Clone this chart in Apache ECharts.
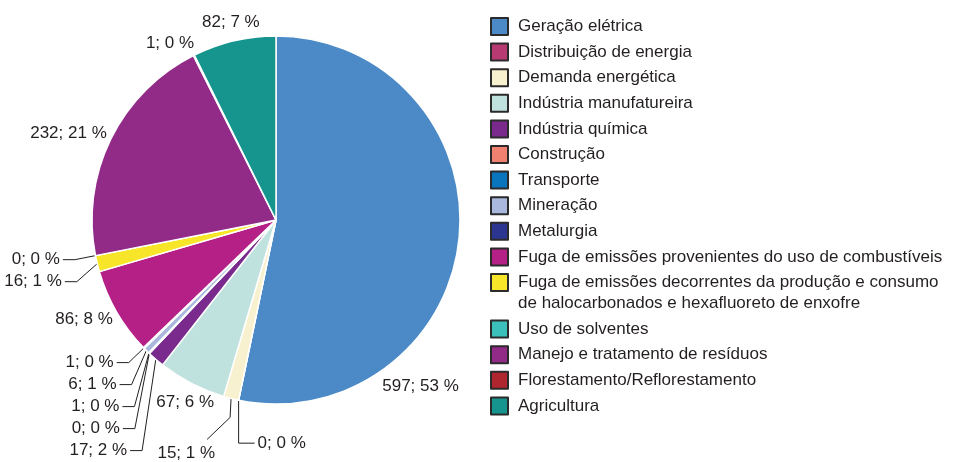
<!DOCTYPE html>
<html>
<head>
<meta charset="utf-8">
<script src="https://cdn.jsdelivr.net/npm/echarts@6/dist/echarts.min.js"></script>
<style>
  html, body { margin: 0; padding: 0; background: #fff; }
  #chart { width: 953px; height: 462px; }
</style>
</head>
<body>
<div id="chart"></div>
<script>
const categories = [
  'Geração elétrica',
  'Distribuição de energia',
  'Demanda energética',
  'Indústria manufatureira',
  'Indústria química',
  'Construção',
  'Transporte',
  'Mineração',
  'Metalurgia',
  'Fuga de emissões provenientes do uso de combustíveis',
  'Fuga de emissões decorrentes da produção e consumo\nde halocarbonados e hexafluoreto de enxofre',
  'Uso de solventes',
  'Manejo e tratamento de resíduos',
  'Florestamento/Reflorestamento',
  'Agricultura'
]
const values = [597, 0, 15, 67, 17, 0, 1, 6, 1, 86, 16, 0, 232, 1, 82]
const colors = [
  '#4b89c7', '#b73a72', '#f8f1cf', '#c0e2df', '#7a2a8c',
  '#f08070', '#0a74bd', '#a9b8dc', '#2c3590', '#b52086',
  '#f7e52a', '#3cc0bb', '#922a88', '#b0262e', '#16958f'
]

const total = values.reduce((a, b) => a + b, 0)
const FONT = "'Liberation Sans', Arial, sans-serif"
const FS = 17
const CX = 276, CY = 220, R = 184
const TEXT_H = 19

const labelText = i => values[i] + '; ' + Math.round(values[i] / total * 100) + ' %'

// measure label widths so the layout can keep labels apart
const ctx = document.createElement('canvas').getContext('2d')
ctx.font = FS + 'px ' + FONT
const widths = values.map((v, i) => ctx.measureText(labelText(i)).width)

// slice angles, clockwise from 12 o'clock
let acc = 0
const starts = values.map(v => { const s = acc / total * 2 * Math.PI; acc += v; return s })
const sweeps = values.map(v => v / total * 2 * Math.PI)
const maxVal = Math.max(...values)
const mids = values.map((v, i) => starts[i] + sweeps[i] * (v === maxVal ? 0.725 : 0.5))
const deg = a => a * 180 / Math.PI
const hasLine = values.map((v, i) => v < 50 && deg(mids[i]) < 300)
const pt = (a, r) => [CX + r * Math.sin(a), CY - r * Math.cos(a)]

const layouts = []
const boxes = []

// labels next to the rim, no leader line; biggest slices first
values.map((v, i) => i)
  .filter(i => !hasLine[i])
  .sort((a, b) => values[b] - values[a])
  .forEach(i => {
    const a = mids[i]
    const dx = Math.sin(a), dy = -Math.cos(a)
    const P = pt(a, R)
    let x, y
    if (values[i] === maxVal) {
      const half = Math.abs(dx) * widths[i] / 2 + Math.abs(dy) * TEXT_H / 2
      ;[x, y] = pt(a, R + 4 + half)
    } else if (Math.abs(dx) > Math.abs(dy)) {
      x = P[0] + Math.sign(dx) * (widths[i] / 2 + 4)
      y = P[1] + dy * 14
    } else {
      x = P[0] + dx * 14
      y = P[1] + Math.sign(dy) * (TEXT_H / 2 + 9)
    }
    boxes.forEach(b => {
      const l = x - widths[i] / 2, r = x + widths[i] / 2
      if (Math.abs(b.y - y) < TEXT_H && r > b.l - 4 && l < b.r + 4) {
        x = dx < 0 ? b.l - 8 - widths[i] / 2 : b.r + 8 + widths[i] / 2
        y += 6
      }
    })
    boxes.push({ l: x - widths[i] / 2, r: x + widths[i] / 2, y })
    layouts[i] = { x, y, align: 'center', verticalAlign: 'middle' }
  })

// leader-line labels
const L1 = 21, L2 = 12, GAP = 3
const leftStack = []
values.forEach((v, i) => {
  if (!hasLine[i]) return
  const d = deg(mids[i])
  const P = pt(mids[i], R)
  if (d < 192.5) {
    const elbow = [P[0], P[1] + 43]
    const end = [P[0] + 16, P[1] + 43]
    layouts[i] = {
      x: end[0] + GAP, y: end[1], align: 'left', verticalAlign: 'middle',
      labelLinePoints: [P, elbow, end]
    }
  } else if (d < 200) {
    const elbow = [P[0] - 1, P[1] + 19]
    const end = [P[0] - 24, P[1] + 41]
    layouts[i] = {
      x: end[0] + 8, y: end[1] + 14, align: 'right', verticalAlign: 'middle',
      labelLinePoints: [P, elbow, end]
    }
  } else {
    leftStack.push(i)
  }
})
leftStack.sort((a, b) => mids[b] - mids[a])
let prevY = -Infinity
leftStack.forEach(i => {
  const P = pt(mids[i], R)
  const E = pt(mids[i], R + L1)
  const y = Math.max(E[1], prevY + 22)
  prevY = y
  const elbow = [E[0], y]
  const end = [E[0] - L2, y]
  layouts[i] = {
    x: end[0] - GAP, y, align: 'right', verticalAlign: 'middle',
    labelLinePoints: [P, elbow, end]
  }
})

const chart = echarts.init(document.getElementById('chart'), null, { renderer: 'canvas' })

const data = values.map((v, i) => ({
  name: categories[i],
  value: v,
  itemStyle: { color: colors[i] },
  labelLine: { show: hasLine[i] }
}))

// legend split in two so the two-line entry keeps its box on the first line
const legendBase = {
  orient: 'vertical',
  left: 485,
  itemWidth: 17,
  itemHeight: 17,
  itemGap: 4.6,
  icon: 'rect',
  selectedMode: false,
  itemStyle: { borderColor: '#2b2b2b', borderWidth: 2 },
  textStyle: {
    color: '#231f20',
    fontSize: FS,
    fontFamily: FONT,
    lineHeight: 21,
    padding: [0, 0, 0, 5]
  }
}
const splitAt = categories.findIndex(c => c.includes('\n'))

chart.setOption({
  animation: false,
  backgroundColor: '#fff',
  legend: [
    Object.assign({}, legendBase, { top: 11, data: categories.slice(0, splitAt) }),
    Object.assign({}, legendBase, {
      top: 246,
      data: categories.slice(splitAt),
      // an empty first line lifts the box level with the first text line
      formatter: name => name.includes('\n') ? '\n' + name : name
    })
  ],
  series: [
    {
      type: 'pie',
      center: [CX, CY],
      radius: R,
      startAngle: 90,
      clockwise: true,
      avoidLabelOverlap: false,
      itemStyle: { borderColor: '#fff', borderWidth: 1.5 },
      label: {
        show: true,
        position: 'outside',
        color: '#231f20',
        fontSize: FS,
        fontFamily: FONT,
        overflow: 'none',
        formatter: p => labelText(p.dataIndex)
      },
      labelLine: {
        length: 10,
        length2: 10,
        lineStyle: { color: '#231f20', width: 1 }
      },
      labelLayout: params => layouts[params.dataIndex] || {},
      emphasis: { disabled: true },
      data: data
    }
  ]
})
</script>
</body>
</html>
